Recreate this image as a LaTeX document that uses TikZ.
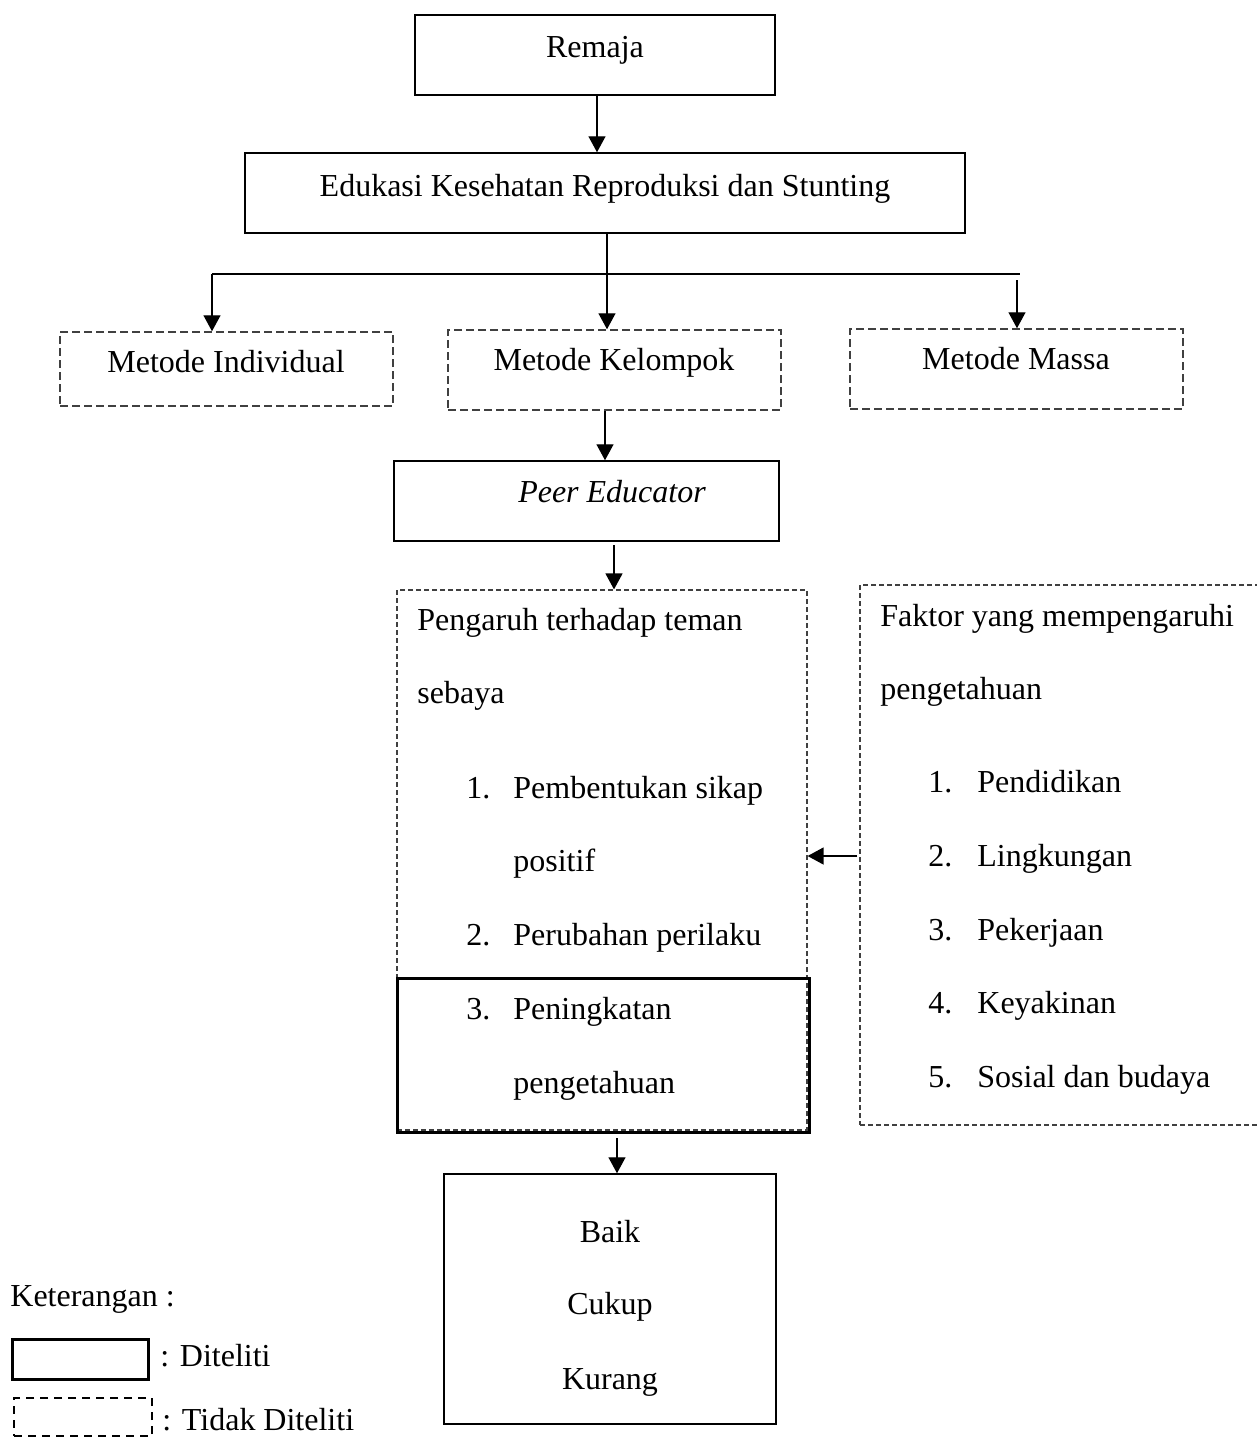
\documentclass[tikz,border=0pt]{standalone}
\usepackage{fontspec}
\setmainfont{Liberation Serif}
\usetikzlibrary{arrows.meta}
\begin{document}
\begin{tikzpicture}[x=0.5pt,y=-0.5pt,
  font=\fontsize{16}{19}\selectfont,
  solidbox/.style={draw, line width=0.75pt, inner sep=0pt},
  thickbox/.style={draw, line width=1.5pt, inner sep=0pt},
  dashbox/.style={draw=black!75, line width=0.75pt, dash pattern=on 4pt off 2pt, inner sep=0pt},
  finebox/.style={draw=black!75, line width=0.6pt, dash pattern=on 2.5pt off 1.5pt, inner sep=0pt},
  legdash/.style={draw=black, line width=1.1pt, dash pattern=on 4pt off 3pt, inner sep=0pt},
  arr/.style={-{Triangle[width=8.5pt,length=8pt]}, line width=0.7pt},
  ctxt/.style={inner sep=0pt, anchor=base},
  ltxt/.style={inner sep=0pt, anchor=base west}]
\useasboundingbox (0,0) rectangle (1257,1448);
\clip (0,0) rectangle (1257,1448);

% boxes
\node[solidbox, minimum width=180pt, minimum height=40pt] (remaja) at (595,55) {};
\node[solidbox, minimum width=360pt, minimum height=40pt] (edukasi) at (605,193) {};
\node[dashbox, minimum width=166.5pt, minimum height=37pt] (individual) at (226.5,369) {};
\node[dashbox, minimum width=166.5pt, minimum height=40pt] (kelompok) at (614.5,370) {};
\node[dashbox, minimum width=166.5pt, minimum height=40pt] (massa) at (1016.5,369) {};
\node[solidbox, minimum width=192.5pt, minimum height=40pt] (peer) at (586.5,501) {};
\node[finebox, minimum width=205pt, minimum height=270pt] (pengaruh) at (602,860) {};
\node[thickbox, minimum width=206pt, minimum height=77pt] (penbox) at (603,1055) {};
\node[finebox, minimum width=201pt, minimum height=270pt] (faktor) at (1061,855) {};
\node[solidbox, minimum width=166pt, minimum height=125pt] (baik) at (610,1299) {};
\node[thickbox, minimum width=68pt, minimum height=20pt] (legsolid) at (80,1359) {};
\node[legdash, minimum width=69pt, minimum height=19pt] (legdashed) at (83,1417) {};

% texts
\node[ctxt] (tremaja) at (595,57) {Remaja};
\node[ctxt] (tedukasi) at (605,196) {Edukasi Kesehatan Reproduksi dan Stunting};
\node[ctxt] (tindividual) at (226,372) {Metode Individual};
\node[ctxt] (tkelompok) at (614,370) {Metode Kelompok};
\node[ctxt] (tmassa) at (1016,369) {Metode Massa};
\node[ctxt] (tpeer) at (612,502) {\itshape Peer Educator};

\node[ltxt] (p0) at (417,630) {Pengaruh terhadap teman};
\node[ltxt] (p1) at (417,703) {sebaya};
\node[ltxt] (pn1) at (466,798) {1.};
\node[ltxt] (pi1) at (513,798) {Pembentukan sikap};
\node[ltxt] (pi1b) at (513,871) {positif};
\node[ltxt] (pn2) at (466,945) {2.};
\node[ltxt] (pi2) at (513,945) {Perubahan perilaku};
\node[ltxt] (pn3) at (466,1019) {3.};
\node[ltxt] (pi3) at (513,1019) {Peningkatan};
\node[ltxt] (pi3b) at (513,1093) {pengetahuan};

\node[ltxt] (f0) at (880,626) {Faktor yang mempengaruhi};
\node[ltxt] (f1) at (880,699) {pengetahuan};
\node[ltxt] (fn1) at (928,792) {1.};
\node[ltxt] (fi1) at (977,792) {Pendidikan};
\node[ltxt] (fn2) at (928,866) {2.};
\node[ltxt] (fi2) at (977,866) {Lingkungan};
\node[ltxt] (fn3) at (928,940) {3.};
\node[ltxt] (fi3) at (977,940) {Pekerjaan};
\node[ltxt] (fn4) at (928,1013) {4.};
\node[ltxt] (fi4) at (977,1013) {Keyakinan};
\node[ltxt] (fn5) at (928,1087) {5.};
\node[ltxt] (fi5) at (977,1087) {Sosial dan budaya};

\node[ctxt] (tbaik) at (610,1242) {Baik};
\node[ctxt] (tcukup) at (610,1314) {Cukup};
\node[ctxt] (tkurang) at (610,1389) {Kurang};

\node[ltxt] (ket) at (10,1306) {Keterangan :};
\node[ltxt] (ldit) at (160,1366) {: Diteliti};
\node[ltxt] (ltdk) at (162,1430) {: Tidak Diteliti};

% connectors
\coordinate (c1) at (597,0);
\coordinate (jn) at (607,274);
\coordinate (hl) at (212,274);
\coordinate (hr) at (1020,274);
\coordinate (rr) at (1017,280);
\coordinate (c3) at (605,0);
\coordinate (c4) at (614,545);
\coordinate (c5) at (0,856);
\coordinate (c6) at (617,1138);

\draw[arr] (remaja.south -| c1) -- (edukasi.north -| c1);
\draw[line width=0.7pt] (hl) -- (hr);
\draw[arr] (hl) -- (individual.north -| hl);
\draw[arr] (edukasi.south -| jn) -- (kelompok.north -| jn);
\draw[arr] (rr) -- (massa.north -| rr);
\draw[arr] (kelompok.south -| c3) -- (peer.north -| c3);
\draw[arr] (c4) -- (pengaruh.north -| c4);
\draw[arr] ([xshift=-1pt]faktor.west |- c5) -- (pengaruh.east |- c5);
\draw[arr] (c6) -- (baik.north -| c6);
\end{tikzpicture}
\end{document}
